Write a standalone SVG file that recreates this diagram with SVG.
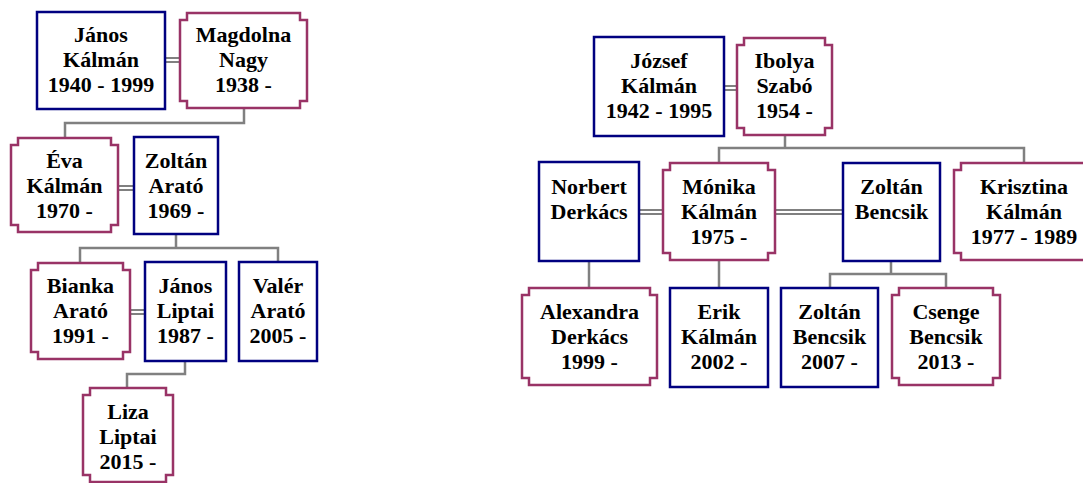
<svg xmlns="http://www.w3.org/2000/svg" width="1083" height="483" viewBox="0 0 1083 483">
  <style>
    .m { fill: #ffffff; stroke: #000080; stroke-width: 2.5; }
    .f { fill: #ffffff; stroke: #993366; stroke-width: 2.5; }
    .lnk { fill: none; stroke: #808080; stroke-width: 2.5; }
    .wed { fill: none; stroke: #808080; stroke-width: 2; }
    text { font-family: "Liberation Serif", "Times New Roman", serif; font-weight: bold; font-size: 22px; fill: #000000; text-anchor: middle; }
  </style>
  <rect width="1083" height="483" fill="#ffffff"/>

  <!-- connectors: parent-child lines and double marriage lines -->
  <g id="connectors">
    <path class="lnk" d="M244,108 V123 H65 V138"/>
    <path class="lnk" d="M176,234 V248 M80,263 V248 H278 V262"/>
    <path class="lnk" d="M185,361 V374 H127 V388"/>
    <path class="lnk" d="M785,135 V148 M719,163 V148 H1024 V163"/>
    <path class="lnk" d="M589,261 V288"/>
    <path class="lnk" d="M719,260 V288"/>
    <path class="lnk" d="M891,261 V274 M830,288 V274 H946 V288"/>
    <path class="wed" d="M165,58 H180 M165,62 H180"/>
    <path class="wed" d="M118,186 H134 M118,190 H134"/>
    <path class="wed" d="M130,310 H145 M130,314 H145"/>
    <path class="wed" d="M724,86 H737 M724,90 H737"/>
    <path class="wed" d="M639,210 H663 M639,214 H663"/>
    <path class="wed" d="M775,210 H843 M775,214 H843"/>
  </g>

  <!-- left family -->
  <g id="janos-kalman">
    <rect class="m" x="37" y="12" width="128" height="97"/>
    <text x="101" y="42">János</text><text x="101" y="67">Kálmán</text><text x="101" y="92">1940 - 1999</text>
  </g>
  <g id="magdolna-nagy">
    <path class="f" d="M187,13 H300 V20 H307 V101 H300 V108 H187 V101 H180 V20 H187 Z"/>
    <text x="243.5" y="42">Magdolna</text><text x="243.5" y="67">Nagy</text><text x="243.5" y="92">1938 -</text>
  </g>
  <g id="eva-kalman">
    <path class="f" d="M18,138 H111 V145 H118 V225 H111 V232 H18 V225 H11 V145 H18 Z"/>
    <text x="64.5" y="168">Éva</text><text x="64.5" y="193">Kálmán</text><text x="64.5" y="218">1970 -</text>
  </g>
  <g id="zoltan-arato">
    <rect class="m" x="134" y="137" width="84" height="97"/>
    <text x="176" y="168">Zoltán</text><text x="176" y="193">Arató</text><text x="176" y="218">1969 -</text>
  </g>
  <g id="bianka-arato">
    <path class="f" d="M38,263 H123 V270 H130 V352 H123 V359 H38 V352 H31 V270 H38 Z"/>
    <text x="80.5" y="293">Bianka</text><text x="80.5" y="318">Arató</text><text x="80.5" y="343">1991 -</text>
  </g>
  <g id="janos-liptai">
    <rect class="m" x="145" y="262" width="81" height="99"/>
    <text x="185.5" y="293">János</text><text x="185.5" y="318">Liptai</text><text x="185.5" y="343">1987 -</text>
  </g>
  <g id="valer-arato">
    <rect class="m" x="239" y="262" width="78" height="99"/>
    <text x="278" y="293">Valér</text><text x="278" y="318">Arató</text><text x="278" y="343">2005 -</text>
  </g>
  <g id="liza-liptai">
    <path class="f" d="M90,388 H166 V395 H173 V475 H166 V482 H90 V475 H83 V395 H90 Z"/>
    <text x="128" y="419">Liza</text><text x="128" y="444">Liptai</text><text x="128" y="469">2015 -</text>
  </g>

  <!-- right family -->
  <g id="jozsef-kalman">
    <rect class="m" x="594" y="37" width="130" height="99"/>
    <text x="659" y="68">József</text><text x="659" y="93">Kálmán</text><text x="659" y="118">1942 - 1995</text>
  </g>
  <g id="ibolya-szabo">
    <path class="f" d="M744,38 H825 V45 H832 V128 H825 V135 H744 V128 H737 V45 H744 Z"/>
    <text x="784.5" y="68">Ibolya</text><text x="784.5" y="93">Szabó</text><text x="784.5" y="118">1954 -</text>
  </g>
  <g id="norbert-derkacs">
    <rect class="m" x="539" y="162" width="100" height="99"/>
    <text x="589" y="194">Norbert</text><text x="589" y="219">Derkács</text>
  </g>
  <g id="monika-kalman">
    <path class="f" d="M670,163 H768 V170 H775 V253 H768 V260 H670 V253 H663 V170 H670 Z"/>
    <text x="719" y="194">Mónika</text><text x="719" y="219">Kálmán</text><text x="719" y="244">1975 -</text>
  </g>
  <g id="zoltan-bencsik">
    <rect class="m" x="843" y="163" width="97" height="98"/>
    <text x="891.5" y="194">Zoltán</text><text x="891.5" y="219">Bencsik</text>
  </g>
  <g id="krisztina-kalman">
    <path class="f" d="M961,163 H1087 V170 H1094 V253 H1087 V260 H961 V253 H954 V170 H961 Z"/>
    <text x="1024" y="194">Krisztina</text><text x="1024" y="219">Kálmán</text><text x="1024" y="244">1977 - 1989</text>
  </g>
  <g id="alexandra-derkacs">
    <path class="f" d="M529,288 H650 V295 H657 V378 H650 V385 H529 V378 H522 V295 H529 Z"/>
    <text x="589.5" y="319">Alexandra</text><text x="589.5" y="344">Derkács</text><text x="589.5" y="369">1999 -</text>
  </g>
  <g id="erik-kalman">
    <rect class="m" x="670" y="288" width="98" height="99"/>
    <text x="719" y="319">Erik</text><text x="719" y="344">Kálmán</text><text x="719" y="369">2002 -</text>
  </g>
  <g id="zoltan-bencsik-jr">
    <rect class="m" x="781" y="288" width="97" height="99"/>
    <text x="829.5" y="319">Zoltán</text><text x="829.5" y="344">Bencsik</text><text x="829.5" y="369">2007 -</text>
  </g>
  <g id="csenge-bencsik">
    <path class="f" d="M899,288 H993 V295 H1000 V378 H993 V385 H899 V378 H892 V295 H899 Z"/>
    <text x="946" y="319">Csenge</text><text x="946" y="344">Bencsik</text><text x="946" y="369">2013 -</text>
  </g>
</svg>
